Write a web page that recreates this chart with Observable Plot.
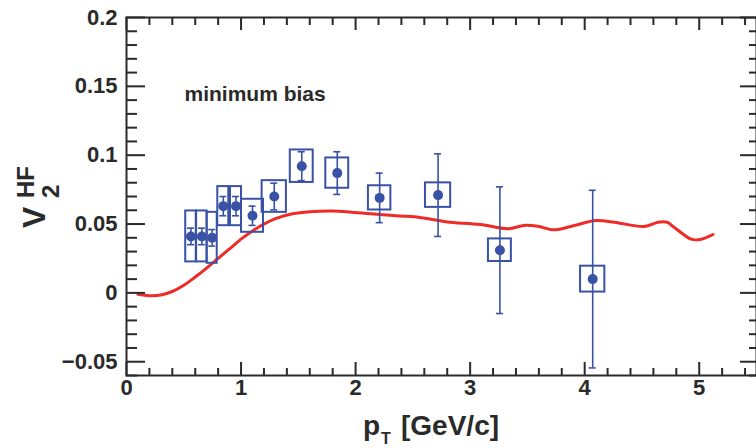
<!DOCTYPE html>
<html><head><meta charset="utf-8">
<script src="https://cdn.jsdelivr.net/npm/d3@7"></script>
<script src="https://cdn.jsdelivr.net/npm/@observablehq/plot@0.6"></script>
<style>body{margin:0;background:#fff;} svg{display:block}</style>
</head><body><div id="chart"></div>
<script>
// Data points (pT, v2HF, statistical error, systematic half-height, box half-width)
const ptX     = [0.563, 0.658, 0.748, 0.845, 0.956, 1.10, 1.29, 1.53, 1.84, 2.21, 2.72, 3.26, 4.07];
const ptV     = [0.041, 0.041, 0.040, 0.063, 0.063, 0.056, 0.070, 0.092, 0.087, 0.069, 0.071, 0.031, 0.010];
const ptStat  = [0.006, 0.006, 0.006, 0.007, 0.007, 0.007, 0.0097, 0.0105, 0.0155, 0.018, 0.030, 0.046, 0.0645];
const ptSys   = [0.0185, 0.0185, 0.0185, 0.0142, 0.0142, 0.012, 0.0115, 0.0118, 0.011, 0.0088, 0.0089, 0.0082, 0.0094];
const ptHalfW = [0.046, 0.046, 0.044, 0.048, 0.048, 0.096, 0.106, 0.10, 0.10, 0.098, 0.11, 0.10, 0.106];

// Theory curve (red)
const curveX = [0.10, 0.20, 0.30, 0.40, 0.50, 0.60, 0.70, 0.80, 0.90, 1.00, 1.10, 1.20, 1.30, 1.45, 1.60, 1.80, 1.95, 2.13, 2.39, 2.51, 2.66, 2.80, 3.09, 3.33, 3.47, 3.59, 3.73, 3.91, 4.10, 4.26, 4.52, 4.64, 4.72, 4.78, 4.93, 5.01, 5.12];
const curveV = [-0.001, -0.002, -0.0015, 0.001, 0.0055, 0.0115, 0.018, 0.025, 0.032, 0.039, 0.045, 0.050, 0.054, 0.0575, 0.059, 0.0595, 0.0588, 0.0575, 0.0558, 0.0553, 0.0535, 0.0515, 0.0497, 0.0466, 0.049, 0.0484, 0.0458, 0.049, 0.0526, 0.0513, 0.0482, 0.0513, 0.0513, 0.0477, 0.0390, 0.0388, 0.0424];

// Axis ticks
const xMajor = [0, 1, 2, 3, 4, 5];
const yMajor = [-0.05, 0, 0.05, 0.1, 0.15, 0.2];
const xMinor = d3.range(1, 28).map(i => i / 5).filter(d => Math.abs(d - Math.round(d)) > 1e-6);
const yMinor = d3.range(-6, 21).filter(i => i % 5 !== 0).map(i => i / 100);

const points = ptX.map((x, i) => ({x, v: ptV[i], stat: ptStat[i], sys: ptSys[i], hw: ptHalfW[i]}));
const curve = curveX.map((x, i) => ({x, v: curveV[i]}));

const blue = "#3a52a6", red = "#ee2b26", ink = "#2a2a2a";
const F = "'Liberation Sans', Arial, Helvetica, sans-serif";
const W = 756, H = 448, mL = 126, mT = 17, mR = 0, mB = 73;
const fw = W - mL - mR, fh = H - mT - mB;

const fmt = d => d === 0 ? "0" : String(d).replace("-", "\u2212");

const chart = Plot.plot({
  width: W, height: H,
  marginLeft: mL, marginTop: mT, marginRight: mR, marginBottom: mB,
  x: {domain: [0, 5.5]},
  y: {domain: [-0.06, 0.2]},
  style: {fontFamily: F, fontSize: "22px", fontWeight: "bold", color: ink, background: "#fff", overflow: "visible"},
  marks: [
    Plot.line(curve, {x: "x", y: "v", stroke: red, strokeWidth: 3, curve: "catmull-rom"}),
    Plot.rect(points, {x1: d => d.x - d.hw, x2: d => d.x + d.hw, y1: d => d.v - d.sys, y2: d => d.v + d.sys, fill: "none", stroke: blue, strokeWidth: 2}),
    Plot.ruleX(points, {x: "x", y1: d => d.v - d.stat, y2: d => d.v + d.stat, stroke: blue, strokeWidth: 1.6}),
    Plot.ruleY(points, {y: d => d.v + d.stat, x1: "x", x2: "x", insetLeft: -3.5, insetRight: -3.5, stroke: blue, strokeWidth: 1.6}),
    Plot.ruleY(points, {y: d => d.v - d.stat, x1: "x", x2: "x", insetLeft: -3.5, insetRight: -3.5, stroke: blue, strokeWidth: 1.6}),
    Plot.dot(points, {x: "x", y: "v", r: 5, fill: blue}),
    // inward ticks: left / right
    Plot.tickY(yMajor, {y: d => d, insetRight: fw - 19, stroke: ink, strokeWidth: 2}),
    Plot.tickY(yMinor, {y: d => d, insetRight: fw - 11, stroke: ink, strokeWidth: 2}),
    Plot.tickY(yMajor, {y: d => d, insetLeft: fw - 16, stroke: ink, strokeWidth: 2}),
    Plot.tickY(yMinor, {y: d => d, insetLeft: fw - 7, stroke: ink, strokeWidth: 2}),
    // inward ticks: bottom / top
    Plot.tickX(xMajor, {x: d => d, insetTop: fh - 13, stroke: ink, strokeWidth: 2}),
    Plot.tickX(xMinor, {x: d => d, insetTop: fh - 7, stroke: ink, strokeWidth: 2}),
    Plot.tickX(xMajor, {x: d => d, insetBottom: fh - 13, stroke: ink, strokeWidth: 2}),
    Plot.tickX(xMinor, {x: d => d, insetBottom: fh - 8, stroke: ink, strokeWidth: 2}),
    Plot.frame({stroke: ink, strokeWidth: 2}),
    Plot.axisY({ticks: yMajor, tickSize: 0, tickPadding: 9, tickFormat: fmt, label: null, fontSize: 22, fontWeight: "bold"}),
    Plot.axisX({ticks: xMajor, tickSize: 0, tickPadding: 4, tickFormat: d => String(d), label: null, fontSize: 22, fontWeight: "bold"}),
    Plot.text(["minimum bias"], {x: 0.506, y: 0.144, text: d => d, textAnchor: "start", fontSize: 21, fontWeight: "bold", fill: ink})
  ]
});

const svg = d3.select(chart);
// y-axis title: V_2^HF
const yl = svg.append("g").attr("fill", ink).attr("font-family", F).attr("font-weight", "bold").attr("text-anchor", "start");
yl.append("text").attr("transform", "translate(45,228) rotate(-90)").attr("font-size", 32).text("V");
yl.append("text").attr("transform", "translate(34,198) rotate(-90)").attr("font-size", 24).text("HF");
yl.append("text").attr("transform", "translate(59,198) rotate(-90)").attr("font-size", 24).text("2");
// x-axis title: p_T [GeV/c]
const xl = svg.append("g").attr("fill", ink).attr("font-family", F).attr("font-weight", "bold").attr("text-anchor", "start");
xl.append("text").attr("x", 363).attr("y", 435).attr("font-size", 28).text("p");
xl.append("text").attr("x", 381).attr("y", 444).attr("font-size", 16).text("T");
xl.append("text").attr("x", 401).attr("y", 435).attr("font-size", 28).text("[GeV/c]");

document.getElementById("chart").appendChild(chart);
</script>
</body></html>
